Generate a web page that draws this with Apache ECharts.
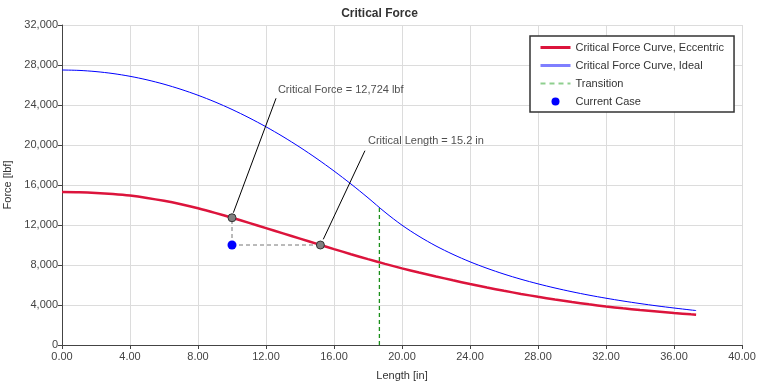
<!DOCTYPE html>
<html>
<head>
<meta charset="utf-8">
<script src="https://cdn.jsdelivr.net/npm/echarts@6/dist/echarts.min.js"></script>
<style>html,body{margin:0;padding:0;background:#fff}#c{width:759px;height:386px}</style>
</head>
<body>
<div id="c"></div>
<script>
// ---- data ----
var lengths = [0,1,2,3,4,5,6,7,8,9,10,11,12,13,14,15,16,17,18,19,20,21,22,23,24,25,26,27,28,29,30,31,32,33,34,35,36,37,37.3];
var eccentric = [15290,15270,15205,15095,14940,14710,14420,14070,13670,13215,12724,12210,11690,11165,10640,10110,9590,9080,8585,8110,7665,7255,6855,6470,6100,5750,5420,5110,4820,4550,4300,4065,3850,3670,3505,3350,3200,3070,3035];
var ideal = [27500,27460,27340,27145,26870,26515,26080,25565,24975,24305,23555,22725,21820,20835,19770,18625,17400,16100,14720,13280,11980,10870,9900,9060,8320,7670,7090,6575,6115,5700,5325,4985,4680,4400,4145,3910,3700,3500,3445];
var transitionLength = 18.67;
var transitionForce = 13750;
var currentCase = [10, 10000];
var criticalForcePoint = [10, 12724];
var criticalLengthPoint = [15.2, 10000];
var note1 = {text: 'Critical Force = 12,724 lbf', at: [12.7, 25500], from: [12.59, 24670], to: [10.08, 13230]};
var note2 = {text: 'Critical Length = 15.2 in', at: [18.0, 20400], from: [17.82, 19430], to: [15.37, 10570]};
var xTicks = {min: 0, max: 40, interval: 4};
var yTicks = {min: 0, max: 32000, interval: 4000};
var legendNames = ['Critical Force Curve, Eccentric', 'Critical Force Curve, Ideal', 'Transition', 'Current Case'];

function pairs(xs, ys){ return xs.map(function(x,i){ return [x, ys[i]]; }); }

var chart = echarts.init(document.getElementById('c'), null, {renderer: 'canvas'});
var font = 'Arial, "Liberation Sans", sans-serif';
var hidden = {opacity: 0};
chart.setOption({
  animation: false,
  backgroundColor: '#fff',
  textStyle: {fontFamily: font},
  title: {text: 'Critical Force', left: 'center', top: 3,
    textStyle: {fontSize: 12, fontWeight: 'bold', color: '#333', fontFamily: font}},
  grid: {left: 62, right: 17, top: 25, bottom: 41, containLabel: false, outerBoundsMode: 'none'},
  legend: {
    orient: 'vertical', left: 530, top: 36,
    backgroundColor: '#fff', borderColor: '#333', borderWidth: 1.5,
    padding: [6, 10, 5, 9], itemWidth: 30, itemHeight: 8, itemGap: 7,
    textStyle: {fontSize: 11, color: '#333', fontFamily: font},
    data: [
      {name: legendNames[0], itemStyle: hidden, lineStyle: {width: 3, color: '#DC143C'}},
      {name: legendNames[1], itemStyle: hidden, lineStyle: {width: 3, color: '#7f7fff'}},
      {name: legendNames[2], itemStyle: hidden, lineStyle: {width: 2, color: '#8fcf8f', type: [5, 4]}},
      {name: legendNames[3], icon: 'circle', itemStyle: {color: '#0000ff', opacity: 1}}
    ]
  },
  xAxis: {
    type: 'value', min: xTicks.min, max: xTicks.max, interval: xTicks.interval,
    name: 'Length [in]', nameLocation: 'middle', nameGap: 25,
    nameTextStyle: {fontSize: 11, color: '#333'},
    axisLine: {show: true, lineStyle: {color: '#444', width: 1}},
    axisTick: {show: true, length: 4, lineStyle: {color: '#444'}},
    axisLabel: {fontSize: 11, color: '#444', margin: 6, formatter: function(v){ return v.toFixed(2); }},
    splitLine: {show: true, lineStyle: {color: '#dcdcdc', width: 1}}
  },
  yAxis: {
    type: 'value', min: yTicks.min, max: yTicks.max, interval: yTicks.interval,
    name: 'Force [lbf]', nameLocation: 'middle', nameGap: 46,
    nameTextStyle: {fontSize: 11, color: '#333'},
    axisLine: {show: true, lineStyle: {color: '#444', width: 1}},
    axisTick: {show: true, length: 4, lineStyle: {color: '#444'}},
    axisLabel: {fontSize: 11, color: '#444', margin: 4, formatter: function(v){ return v.toLocaleString('en-US'); }},
    splitLine: {show: true, lineStyle: {color: '#dcdcdc', width: 1}}
  },
  series: [
    {name: legendNames[1], type: 'line', data: pairs(lengths, ideal),
      smooth: 0.3, showSymbol: false, symbol: 'none', lineStyle: {color: '#0000ff', width: 1}, color: '#0000ff', z: 3},
    {name: legendNames[0], type: 'line', data: pairs(lengths, eccentric),
      smooth: 0.3, showSymbol: false, symbol: 'none', lineStyle: {color: '#DC143C', width: 2.5}, color: '#DC143C', z: 4},
    {name: legendNames[2], type: 'line', data: [[transitionLength, 0], [transitionLength, transitionForce]],
      showSymbol: false, symbol: 'none', lineStyle: {color: '#1a8f1a', width: 1.3, type: [4, 3]}, color: '#1a8f1a', z: 6},
    {name: 'guideV', type: 'line', data: [currentCase, [currentCase[0], criticalForcePoint[1]]],
      showSymbol: false, symbol: 'none', lineStyle: {color: '#777', width: 1, type: [4, 3]}, color: '#777', z: 5},
    {name: 'guideH', type: 'line', data: [currentCase, [criticalLengthPoint[0], currentCase[1]]],
      showSymbol: false, symbol: 'none', lineStyle: {color: '#777', width: 1, type: [4, 3]}, color: '#777', z: 5},
    {name: 'critical', type: 'scatter', data: [criticalForcePoint, criticalLengthPoint],
      symbolSize: 8, itemStyle: {color: '#808080', borderColor: '#333', borderWidth: 1, opacity: 1}, z: 7,
      markLine: {
        silent: true, animation: false, symbol: ['none', 'arrow'], symbolSize: [0, 10],
        lineStyle: {color: '#000', width: 1, type: 'solid'}, label: {show: false},
        data: [
          [{coord: note1.from}, {coord: note1.to}],
          [{coord: note2.from}, {coord: note2.to}]
        ]
      }},
    {name: legendNames[3], type: 'scatter', data: [currentCase], symbolSize: 9,
      itemStyle: {color: '#0000ff', opacity: 1}, color: '#0000ff', z: 8},
    {name: 'notes', type: 'scatter', symbolSize: 0, silent: true,
      data: [{value: note1.at, name: note1.text}, {value: note2.at, name: note2.text}],
      label: {show: true, position: 'right', distance: 0, fontSize: 11, color: '#222',
        formatter: function(p){ return p.name; }}}
  ]
});
</script>
</body>
</html>
